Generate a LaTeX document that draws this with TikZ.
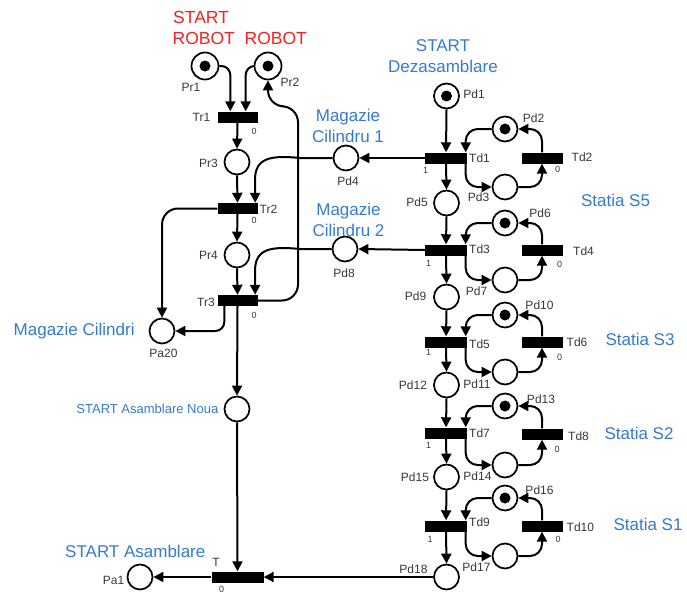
\documentclass[tikz,border=0pt]{standalone}
\usepackage{fontspec}
\setmainfont{Liberation Sans}
\usetikzlibrary{arrows.meta,calc}
\definecolor{lblue}{RGB}{52,122,210}
\definecolor{lred}{RGB}{250,30,30}
\definecolor{lgrey}{RGB}{55,55,55}
\begin{document}
\begin{tikzpicture}[x=1pt,y=-1pt,
 place/.style={circle,draw,line width=1.7pt,minimum size=25pt,inner sep=0pt},
 tok/.style={place,path picture={\fill (path picture bounding box.center) circle (5.5pt);}},
 trans/.style={fill=black,minimum width=41pt,minimum height=11pt,inner sep=0pt},
 arc/.style={line width=2pt,-{Triangle[length=10pt,width=10pt]}},
 lab/.style={font=\fontsize{12}{13}\selectfont,text=lgrey,inner sep=0pt},
 num/.style={font=\fontsize{9}{10}\selectfont,text=lgrey,inner sep=0pt},
 blab/.style={font=\fontsize{17}{20.5}\selectfont,text=lblue,inner sep=0pt,align=center},
 rlab/.style={font=\fontsize{17.5}{21.5}\selectfont,text=lred,inner sep=0pt,align=left}]
\useasboundingbox (0,0) rectangle (687,594);

% ---------- left (robot) net ----------
\node[tok,minimum size=27pt] (Pr1) at (205,66) {};
\node[tok,minimum size=27pt] (Pr2) at (268,66) {};
\node[trans,minimum width=40pt] (Tr1) at (237.5,117) {};
\node[place] (Pr3) at (237,162) {};
\node[trans,minimum width=40pt] (Tr2) at (237.5,208.5) {};
\node[place] (Pr4) at (237,255) {};
\node[trans,minimum width=40pt] (Tr3) at (237.5,300.5) {};
\node[place] (Pa20) at (162,331) {};
\node[place] (PaN) at (237,409) {};
\node[trans,minimum width=52pt] (T) at (237.5,577) {};
\node[place] (Pa1) at (140,577) {};
\node[place] (Pd4) at (346,158) {};
\node[place] (Pd8) at (345,249) {};

% ---------- right (disassembly) net ----------
\node[tok] (Pd1) at (446.5,96) {};
\node[trans,minimum width=42pt] (Td1) at (446,158) {};
\node[tok] (Pd2) at (505,129) {};
\node[trans] (Td2) at (542,158) {};
\node[place] (Pd3) at (505,187) {};
\node[place] (Pd5) at (446.5,203) {};
\node[trans,minimum width=42pt] (Td3) at (446,250) {};
\node[tok] (Pd6) at (505,223) {};
\node[trans] (Td4) at (542,250) {};
\node[place] (Pd7) at (505,280) {};
\node[place] (Pd9) at (446.5,297) {};
\node[trans,minimum width=42pt] (Td5) at (446,342) {};
\node[tok] (Pd10) at (505,315) {};
\node[trans] (Td6) at (542,342) {};
\node[place] (Pd11) at (505,372) {};
\node[place] (Pd12) at (446.5,385) {};
\node[trans,minimum width=42pt] (Td7) at (446,433) {};
\node[tok] (Pd13) at (505,406) {};
\node[trans] (Td8) at (542,434) {};
\node[place] (Pd14) at (505,465) {};
\node[place] (Pd15) at (446.5,477) {};
\node[trans,minimum width=42pt] (Td9) at (446,526) {};
\node[tok] (Pd16) at (505,498) {};
\node[trans] (Td10) at (542,526) {};
\node[place] (Pd17) at (505,556) {};
\node[place] (Pd18) at (446.5,577) {};

% ---------- arcs, left ----------
\draw[arc,rounded corners=9pt] (Pr1.east) -| ([xshift=13pt]Tr1.north west);
\draw[arc,rounded corners=9pt] (Pr2.west) -| ([xshift=-12pt]Tr1.north east);
\draw[arc] (Tr1.south) -- (Pr3.north);
\draw[arc] (Pr3.south) -- (Tr2.north);
\draw[arc] (Tr2.south) -- (Pr4.north);
\draw[arc] (Pr4.south) -- (Tr3.north);
\draw[arc] (Tr3.south) -- (PaN.north);
\draw[arc] (PaN.south) -- (T.north);
\draw[arc,rounded corners=16pt] (Tr2.west) -| (Pa20.north);
\draw[arc,rounded corners=9pt] ([xshift=7pt]Tr3.south west) |- (Pa20.east);
\draw[arc,rounded corners=16pt] (Tr3.east) -| ($(Pr2.south)+(30,26)$) -| (Pr2.south);
\draw[arc] (Td1.west) -- (Pd4.east);
\draw[arc] (Td3.west) -- (Pd8.east);
\draw[arc] (Pd4.west) -- (300,158) .. controls (270,155) and (255,158) .. (255,180) -- ([xshift=-2.5pt]Tr2.north east);
\draw[arc] (Pd8.west) -- (300,249) .. controls (270,246) and (255,249) .. (255,271) -- ([xshift=-2.5pt]Tr3.north east);
\draw[arc] (Pd18.west) -- (T.east);
\draw[arc] (T.west) -- (Pa1.east);

% ---------- arcs, right ----------
\draw[arc] (Pd1.south) -- (Td1.north);
\draw[arc] (Td1.south) -- (Pd5.north);
\draw[arc] (Pd5.south) -- (Td3.north);
\draw[arc] (Td3.south) -- (Pd9.north);
\draw[arc] (Pd9.south) -- (Td5.north);
\draw[arc] (Td5.south) -- (Pd12.north);
\draw[arc] (Pd12.south) -- (Td7.north);
\draw[arc] (Td7.south) -- (Pd15.north);
\draw[arc] (Pd15.south) -- (Td9.north);
\draw[arc] (Td9.south) -- (Pd18.north);
\foreach \a/\b/\c/\d in {Pd2/Td1/Pd3/Td2, Pd6/Td3/Pd7/Td4, Pd10/Td5/Pd11/Td6, Pd13/Td7/Pd14/Td8, Pd16/Td9/Pd17/Td10}{
  \draw[arc,rounded corners=12pt] (\a.west) -| ([xshift=-1.5pt]\b.north east);
  \draw[arc,rounded corners=12pt] ([xshift=-1.5pt]\b.south east) |- (\c.west);
  \draw[arc,rounded corners=12pt] (\c.east) -| (\d.south);
  \draw[arc,rounded corners=12pt] (\d.north) |- (\a.east);
}

% ---------- labels ----------
\node[rlab,anchor=west] (lS) at (173,17) {START};
\node[rlab,anchor=west] (lR) at (172.5,38.5) {ROBOT\ \ ROBOT};
\node[blab] (lDz) at (443,56) {START\\Dezasamblare};
\node[blab] (lM1) at (348,126) {Magazie\\Cilindru 1};
\node[blab] (lM2) at (348.5,220) {Magazie\\Cilindru 2};
\node[blab] (lS5) at (615.5,200) {Statia S5};
\node[blab] (lS3) at (640,339) {Statia S3};
\node[blab] (lS2) at (639,433.5) {Statia S2};
\node[blab] (lS1) at (648,524.5) {Statia S1};
\node[blab,anchor=west] (lMC) at (13.5,331.5) {Magazie Cilindri};
\node[blab,anchor=west] (lSA) at (65,551) {START Asamblare};
\node[blab,anchor=east,font=\fontsize{13}{15}\selectfont] (lSN) at (218.5,409) {START Asamblare Noua};

\node[lab] at (191,87) {Pr1};
\node[lab] at (290,82.5) {Pr2};
\node[lab] at (201.5,117.5) {Tr1};
\node[lab] at (208.5,163.5) {Pr3};
\node[lab] at (268.5,209) {Tr2};
\node[lab] at (208.5,255) {Pr4};
\node[lab] at (206,302) {Tr3};
\node[lab] at (163.5,353) {Pa20};
\node[lab] at (348,181) {Pd4};
\node[lab] at (344,273.5) {Pd8};
\node[lab] at (113.5,580) {Pa1};
\node[lab] at (216,562) {T};
\node[num] at (221.5,589) {0};
\node[num] at (254,131.5) {0};
\node[num] at (254,220.5) {0};
\node[num] at (254,315.5) {0};

\node[lab] at (474,94.5) {Pd1};
\node[lab] at (533.5,118.5) {Pd2};
\node[lab] at (478.5,197) {Pd3};
\node[lab] at (417,202) {Pd5};
\node[lab] at (540,213) {Pd6};
\node[lab] at (476.5,291) {Pd7};
\node[lab] at (415.5,296) {Pd9};
\node[lab] at (539.5,305) {Pd10};
\node[lab] at (477,384) {Pd11};
\node[lab] at (413,385) {Pd12};
\node[lab] at (541,399.5) {Pd13};
\node[lab] at (477.5,476) {Pd14};
\node[lab] at (415,477) {Pd15};
\node[lab] at (539.5,490.5) {Pd16};
\node[lab] at (476.5,567.5) {Pd17};
\node[lab] at (413.5,569) {Pd18};

\node[lab,anchor=west] at (469,158.5) {Td1};
\node[lab,anchor=west] at (571.5,157) {Td2};
\node[lab,anchor=west] at (469,249.5) {Td3};
\node[lab,anchor=west] at (573,251) {Td4};
\node[lab,anchor=west] at (469,344) {Td5};
\node[lab,anchor=west] at (566.5,342) {Td6};
\node[lab,anchor=west] at (469,433) {Td7};
\node[lab,anchor=west] at (568,436) {Td8};
\node[lab,anchor=west] at (469,522.5) {Td9};
\node[lab,anchor=west] at (566.5,527) {Td10};

\node[num] at (425.5,170) {1};
\node[num] at (557.5,169.5) {0};
\node[num] at (428.5,263) {1};
\node[num] at (559.5,264) {0};
\node[num] at (428.5,352.5) {1};
\node[num] at (559.5,357) {0};
\node[num] at (428.5,445.5) {1};
\node[num] at (557,449.5) {0};
\node[num] at (430,539.5) {1};
\node[num] at (558,539.5) {0};
\end{tikzpicture}
\end{document}
